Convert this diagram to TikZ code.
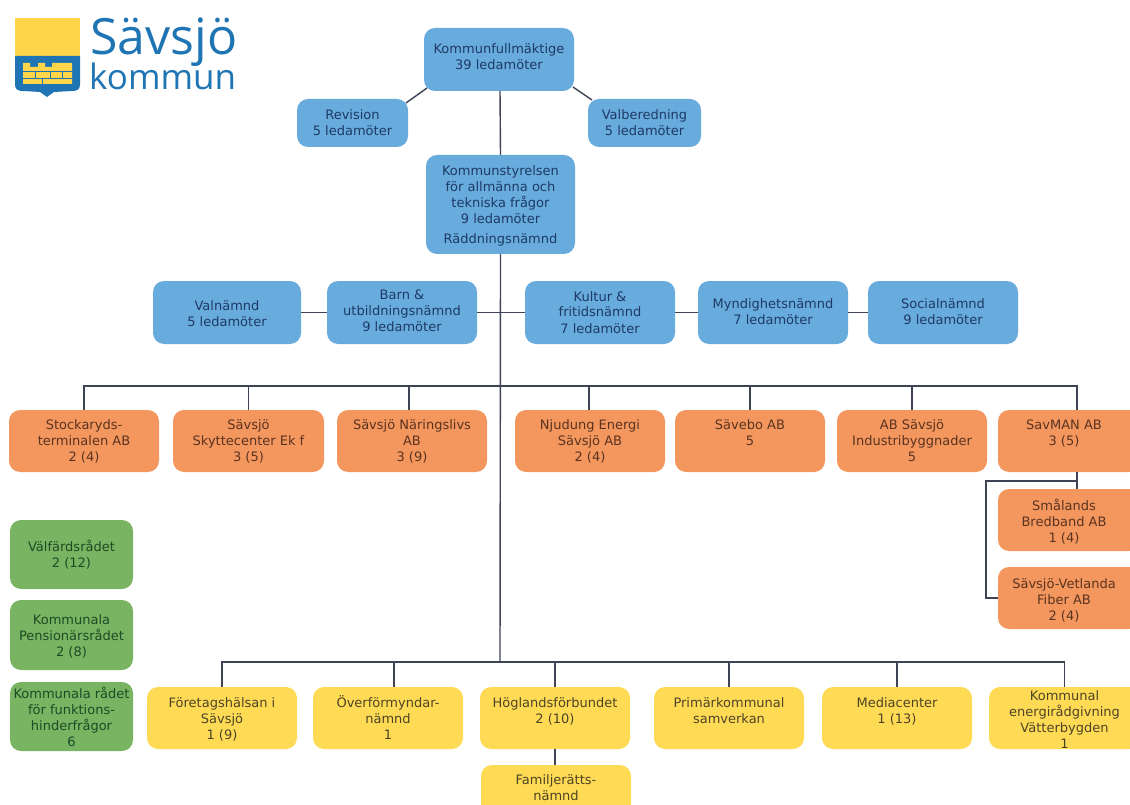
\documentclass[tikz,border=0pt]{standalone}
\usepackage{fontspec}
\setmainfont{DejaVu Sans}
\newfontfamily\logofont{Open Sans}
\usetikzlibrary{calc}
\definecolor{bluebox}{HTML}{68ABDD}
\definecolor{orangebox}{HTML}{F4975E}
\definecolor{greenbox}{HTML}{78B461}
\definecolor{yellowbox}{HTML}{FFDB55}
\definecolor{linecol}{HTML}{3F4356}
\definecolor{logoblue}{HTML}{1F74B4}
\definecolor{logoyellow}{HTML}{FFD64A}
\definecolor{bluetext}{HTML}{1E3A66}
\definecolor{orangetext}{HTML}{5A3320}
\definecolor{greentext}{HTML}{1E4A26}
\definecolor{yellowtext}{HTML}{4D4426}
\tikzset{
  bx/.style={rounded corners=11pt,inner sep=0pt,outer sep=0pt,draw=none,font=\fontsize{13}{16}\selectfont},
  blueb/.style={bx,fill=bluebox,text=bluetext},
  orangeb/.style={bx,fill=orangebox,text=orangetext},
  greenb/.style={bx,fill=greenbox,text=greentext},
  yellowb/.style={bx,fill=yellowbox,text=yellowtext},
  conn/.style={draw=linecol,line width=1.4pt},
  logotext/.style={text=logoblue,inner sep=0pt,anchor=base west}
}
% name, style, x1, y1, x2, y2, first baseline y, text
\newcommand{\bxnode}[8]{%
  \pgfmathsetmacro{\bw}{#5-#3}%
  \pgfmathsetmacro{\bh}{#6-#4}%
  \pgfmathsetmacro{\bp}{#7-#4}%
  \node[#2] (#1) at ({(#3+#5)/2},{(#4+#6)/2})
    {\parbox[c][\bh pt][t]{\bw pt}{\centering\rule{0pt}{\bp pt}#8}};}
\begin{document}
\begin{tikzpicture}[x=1pt,y=-1pt]
\useasboundingbox (0,0) rectangle (1130,805);
% logo
\fill[logoyellow] (15,18) rectangle (80,57);
\fill[logoblue] (15,56) -- (80,56) -- (80,85) .. controls (80,90) and (76,91) .. (72,91) -- (54,92) -- (47,97) -- (40,92) -- (23,91) .. controls (19,91) and (15,90) .. (15,85) -- cycle;
\fill[logoyellow] (23,84) -- (23,63) -- (30,63) -- (30,67) -- (38,67) -- (38,63) -- (45,63) -- (45,67) -- (52,67) -- (52,63) -- (72,63) -- (72,84) -- cycle;
\draw[logoblue,line width=.4pt] (23,71) -- (72,71) (23,78) -- (72,78) (35,71) -- (35,78) (50,71) -- (50,78) (62,71) -- (62,78) (42,78) -- (42,84);
\node[logotext,font=\logofont\fontsize{50}{50}\selectfont] (l1) at (90,55) {Sävsjö};
\node[logotext,font=\logofont\fontsize{35}{35}\selectfont] (l2) at (89,90) {kommun};
% blue
\bxnode{kf}{blueb}{424}{28}{574}{91}{54}{Kommunfullmäktige\\39 ledamöter}
\bxnode{rev}{blueb}{297}{99}{408}{147}{120}{Revision\\5 ledamöter}
\bxnode{val}{blueb}{588}{99}{701}{147}{120}{Valberedning\\5 ledamöter}
\bxnode{ks}{blueb}{426}{155}{575}{254}{176}{Kommunstyrelsen\\för allmänna och\\tekniska frågor\\9 ledamöter\\[4pt]Räddningsnämnd}
\bxnode{vn}{blueb}{153}{281}{301}{344}{310}{Valnämnd\\5 ledamöter}
\bxnode{barn}{blueb}{327}{281}{477}{344}{299}{Barn \&\\utbildningsnämnd\\9 ledamöter}
\bxnode{kult}{blueb}{525}{281}{675}{344}{301}{Kultur \&\\fritidsnämnd\\7 ledamöter}
\bxnode{mynd}{blueb}{698}{281}{848}{344}{309}{Myndighetsnämnd\\7 ledamöter}
\bxnode{soc}{blueb}{868}{281}{1018}{344}{309}{Socialnämnd\\9 ledamöter}
% orange
\bxnode{stock}{orangeb}{9}{410}{159}{472}{429}{Stockaryds-\\terminalen AB\\2 (4)}
\bxnode{skytte}{orangeb}{173}{410}{324}{472}{429}{Sävsjö\\Skyttecenter Ek f\\3 (5)}
\bxnode{nar}{orangeb}{337}{410}{487}{472}{429}{Sävsjö Näringslivs\\AB\\3 (9)}
\bxnode{njud}{orangeb}{515}{410}{665}{472}{429}{Njudung Energi\\Sävsjö AB\\2 (4)}
\bxnode{save}{orangeb}{675}{410}{825}{472}{429}{Sävebo AB\\5}
\bxnode{ind}{orangeb}{837}{410}{987}{472}{429}{AB Sävsjö\\Industribyggnader\\5}
\bxnode{sav}{orangeb}{998}{410}{1140}{472}{429}{\hspace*{-10pt}SavMAN AB\\\hspace*{-10pt}3 (5)}
\bxnode{sma}{orangeb}{998}{489}{1140}{551}{510}{\hspace*{-10pt}Smålands\\\hspace*{-10pt}Bredband AB\\\hspace*{-10pt}1 (4)}
\bxnode{vet}{orangeb}{998}{567}{1140}{629}{588}{\hspace*{-10pt}Sävsjö-Vetlanda\\\hspace*{-10pt}Fiber AB\\\hspace*{-10pt}2 (4)}
% green
\bxnode{g1}{greenb}{10}{520}{133}{589}{551}{Välfärdsrådet\\2 (12)}
\bxnode{g2}{greenb}{10}{600}{133}{670}{624}{Kommunala\\Pensionärsrådet\\2 (8)}
\bxnode{g3}{greenb}{10}{682}{133}{751}{698}{Kommunala rådet\\för funktions-\\hinderfrågor\\6}
% yellow
\bxnode{y1}{yellowb}{147}{687}{297}{749}{707}{Företagshälsan i\\Sävsjö\\1 (9)}
\bxnode{y2}{yellowb}{313}{687}{463}{749}{707}{Överförmyndar-\\nämnd\\1}
\bxnode{y3}{yellowb}{480}{687}{630}{749}{707}{Höglandsförbundet\\2 (10)}
\bxnode{y4}{yellowb}{654}{687}{804}{749}{707}{Primärkommunal\\samverkan}
\bxnode{y5}{yellowb}{822}{687}{972}{749}{707}{Mediacenter\\1 (13)}
\bxnode{y6}{yellowb}{989}{687}{1140}{749}{700}{Kommunal\\energirådgivning\\Vätterbygden\\1}
\bxnode{fam}{yellowb}{481}{765}{631}{815}{784}{Familjerätts-\\nämnd}
% connectors
\coordinate (obus) at (500,386);
\coordinate (ybus) at (500,662);
\coordinate (branch) at (986,481);
\draw[conn] ([xshift=1pt]kf.south) -- (ks.north);
\draw[conn] (ks.south) -- (ybus);
\draw[conn] ([shift={(3,-3)}]kf.south west) -- ([shift={(-2,4)}]rev.north east);
\draw[conn] ([shift={(-1,-4)}]kf.south east) -- ([shift={(4,1)}]val.north west);
\draw[conn] (vn.east) -- (barn.west);
\draw[conn] (barn.east) -- (kult.west);
\draw[conn] (kult.east) -- (mynd.west);
\draw[conn] (mynd.east) -- (soc.west);
\draw[conn] (stock.north) |- (obus);
\draw[conn] (skytte.north) |- (obus);
\draw[conn] ([xshift=-3pt]nar.north) |- (obus);
\draw[conn] ([xshift=-1pt]njud.north) |- (obus);
\draw[conn] (save.north) |- (obus);
\draw[conn] (ind.north) |- (obus);
\draw[conn] ([xshift=8pt]sav.north) |- (obus);
\draw[conn] ([xshift=8pt]sav.south) -- ([xshift=8pt]sma.north);
\draw[conn] ([xshift=8pt]sav.south |- branch) -- (branch) |- (vet.west);
\draw[conn] (y1.north) |- (ybus);
\draw[conn] ([xshift=6pt]y2.north) |- (ybus);
\draw[conn] (y3.north) |- (ybus);
\draw[conn] (y4.north) |- (ybus);
\draw[conn] (y5.north) |- (ybus);
\draw[conn] (y6.north) |- (ybus);
\draw[conn] (y3.south) -- (y3.south |- fam.north);
\end{tikzpicture}
\end{document}
